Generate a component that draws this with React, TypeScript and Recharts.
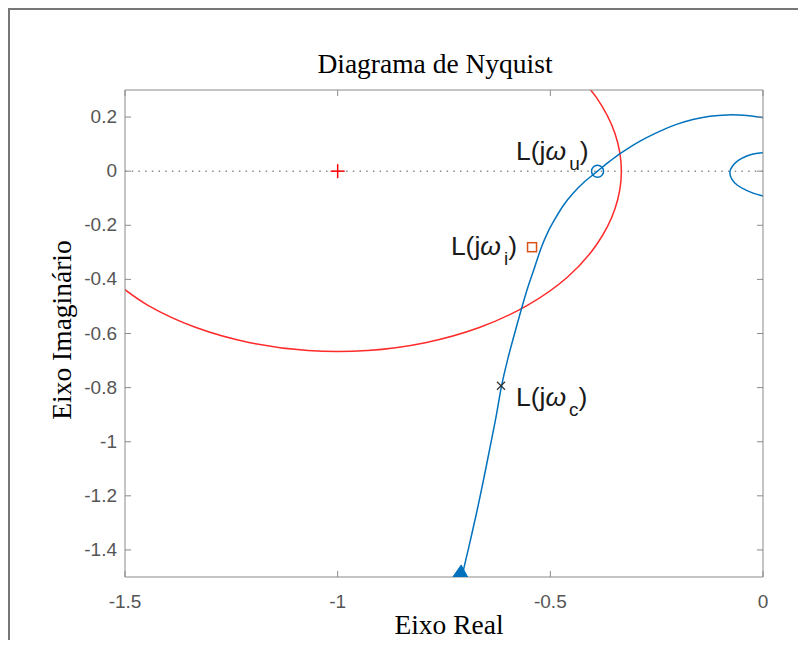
import React from "react";
import { ComposedChart, Line, Scatter, XAxis, YAxis, ReferenceLine } from "recharts";

// axis ticks
const xTicks = [-1.5, -1, -0.5, 0];
const yTicks = [0.2, 0, -0.2, -0.4, -0.6, -0.8, -1, -1.2, -1.4];

// Nyquist curve L(jw), main branch
const mainRe = [-0.714, -0.708, -0.691, -0.674, -0.658, -0.643, -0.628, -0.615, -0.601, -0.584, -0.567, -0.553, -0.537, -0.521, -0.506, -0.488, -0.469, -0.446, -0.421, -0.389, -0.36, -0.336, -0.289, -0.242, -0.205, -0.165, -0.125, -0.085, -0.038, -0.002, 0.04];
const mainIm = [-1.589, -1.504, -1.385, -1.267, -1.148, -1.03, -0.911, -0.796, -0.7, -0.6, -0.504, -0.43, -0.356, -0.281, -0.226, -0.174, -0.126, -0.081, -0.041, 0, 0.037, 0.065, 0.111, 0.148, 0.172, 0.191, 0.203, 0.208, 0.206, 0.198, 0.187];

// small loop near the origin
const loopRe = [0.02, 0, -0.02, -0.038, -0.058, -0.072, -0.078, -0.073, -0.06, -0.04, -0.02, 0, 0.02];
const loopIm = [0.07, 0.068, 0.064, 0.056, 0.04, 0.018, -0.004, -0.03, -0.052, -0.07, -0.083, -0.092, -0.1];

// red circle around -1
const circRe = [-0.454, -0.391, -0.348, -0.333, -0.348, -0.391, -0.46, -0.554, -0.667, -0.794, -0.93, -1.07, -1.206, -1.333, -1.446, -1.54];
const circIm = [0.383, 0.271, 0.139, 0, -0.139, -0.271, -0.392, -0.496, -0.578, -0.634, -0.663, -0.663, -0.634, -0.578, -0.496, -0.392];

// marked points
const ptU = [{ x: -0.389, y: 0 }];
const ptI = [{ x: -0.543, y: -0.281 }];
const ptC = [{ x: -0.616, y: -0.793 }];
const ptStart = [{ x: -0.712, y: -1.485 }];
const ptCritical = [{ x: -1, y: 0 }];

const zip = (re: number[], im: number[]) => re.map((x, i) => ({ x, y: im[i] }));
const mainData = zip(mainRe, mainIm);
const loopData = zip(loopRe, loopIm);
const circData = zip(circRe, circIm);

const BLUE = "#0072BD";
const AXIS = "#8a8a8a";
const TICKTXT = "#555";
const SANS = "'Liberation Sans', Arial, sans-serif";
const SERIF = "'Liberation Serif', 'Times New Roman', serif";

// chord-length Catmull-Rom, so curves that turn back on themselves stay smooth
function smooth(context: any) {
    let pts: number[][] = [];
    return {
        areaStart() {},
        areaEnd() {},
        lineStart() {
            pts = [];
        },
        point(x: number, y: number) {
            pts.push([+x, +y]);
        },
        lineEnd() {
            if (!pts.length) return;
            context.moveTo(pts[0][0], pts[0][1]);
            const d = (a: number[], b: number[]) => Math.hypot(b[0] - a[0], b[1] - a[1]) || 1e-6;
            for (let i = 0; i < pts.length - 1; i++) {
                const p0 = pts[Math.max(i - 1, 0)];
                const p1 = pts[i];
                const p2 = pts[i + 1];
                const p3 = pts[Math.min(i + 2, pts.length - 1)];
                const d01 = d(p0, p1);
                const d12 = d(p1, p2);
                const d23 = d(p2, p3);
                const k1 = d12 / (3 * (d01 + d12));
                const k2 = d12 / (3 * (d12 + d23));
                context.bezierCurveTo(
                    p1[0] + (p2[0] - p0[0]) * k1,
                    p1[1] + (p2[1] - p0[1]) * k1,
                    p2[0] - (p3[0] - p1[0]) * k2,
                    p2[1] - (p3[1] - p1[1]) * k2,
                    p2[0],
                    p2[1]
                );
            }
        },
    };
}

function Label({ x, y, sub, anchor }: { x: number; y: number; sub: string; anchor: "start" | "end" }) {
    return (
        <text x={x} y={y} textAnchor={anchor} fontFamily={SANS} fontSize={26.5} fill="#1a1a1a">
            L(j<tspan fontStyle="italic">ω</tspan>
            <tspan fontSize={19} dy={10} dx={3}>{sub}</tspan>
            <tspan dy={-10}>)</tspan>
        </text>
    );
}

export default function App() {
    return (
        <div
            style={{
                position: "relative",
                width: 796,
                height: 630,
                borderTop: "2px solid #777",
                borderLeft: "2px solid #777",
                marginRight: -8,
                background: "#fff",
            }}
        >
            <ComposedChart width={780} height={630} margin={{ top: 70, right: 17, bottom: 33, left: 55 }}>
                <XAxis
                    type="number"
                    dataKey="x"
                    domain={[-1.5, 0]}
                    ticks={xTicks}
                    interval={0}
                    allowDataOverflow
                    height={30}
                    tickSize={0}
                    tickMargin={0}
                    tickLine={false}
                    axisLine={{ stroke: AXIS }}
                    tick={(p: any) => (
                        <g>
                            <line x1={p.x} y1={p.y} x2={p.x} y2={p.y - 6} stroke={AXIS} />
                            <text x={p.x} y={p.y + 31} textAnchor="middle" fontFamily={SANS} fontSize={19} fill={TICKTXT}>
                                {p.payload.value}
                            </text>
                        </g>
                    )}
                />
                <XAxis
                    xAxisId="top"
                    orientation="top"
                    type="number"
                    dataKey="x"
                    domain={[-1.5, 0]}
                    ticks={xTicks}
                    interval={0}
                    allowDataOverflow
                    height={10}
                    tickSize={0}
                    tickMargin={0}
                    tickLine={false}
                    axisLine={{ stroke: AXIS }}
                    tick={(p: any) => <line x1={p.x} y1={p.y} x2={p.x} y2={p.y + 6} stroke={AXIS} />}
                />
                <YAxis
                    type="number"
                    dataKey="y"
                    domain={[-1.5, 0.3]}
                    ticks={yTicks}
                    interval={0}
                    allowDataOverflow
                    width={60}
                    tickSize={0}
                    tickMargin={0}
                    tickLine={false}
                    axisLine={{ stroke: AXIS }}
                    tick={(p: any) => (
                        <g>
                            <line x1={p.x} y1={p.y} x2={p.x + 6} y2={p.y} stroke={AXIS} />
                            <text x={p.x - 8} y={p.y + 6} textAnchor="end" fontFamily={SANS} fontSize={19} fill={TICKTXT}>
                                {p.payload.value}
                            </text>
                        </g>
                    )}
                />
                <YAxis
                    yAxisId="right"
                    orientation="right"
                    type="number"
                    dataKey="y"
                    domain={[-1.5, 0.3]}
                    ticks={yTicks}
                    interval={0}
                    allowDataOverflow
                    width={10}
                    tickSize={0}
                    tickMargin={0}
                    tickLine={false}
                    axisLine={{ stroke: AXIS }}
                    tick={(p: any) => <line x1={p.x} y1={p.y} x2={p.x - 6} y2={p.y} stroke={AXIS} />}
                />
                <ReferenceLine y={0} stroke="#8c8c8c" strokeWidth={1.5} strokeDasharray="1.5 5.2" />
                <Line data={circData} dataKey="y" type={smooth as any} stroke="#ff2a2a" strokeWidth={1.5} dot={false} isAnimationActive={false} />
                <Line data={mainData} dataKey="y" type={smooth as any} stroke={BLUE} strokeWidth={1.5} dot={false} isAnimationActive={false} />
                <Line data={loopData} dataKey="y" type={smooth as any} stroke={BLUE} strokeWidth={1.5} dot={false} isAnimationActive={false} />
                <Scatter
                    data={ptCritical}
                    dataKey="y"
                    isAnimationActive={false}
                    shape={(p: any) => (
                        <g stroke="#ff0000" strokeWidth={1.5}>
                            <line x1={p.cx - 7} y1={p.cy} x2={p.cx + 7} y2={p.cy} />
                            <line x1={p.cx} y1={p.cy - 7} x2={p.cx} y2={p.cy + 7} />
                        </g>
                    )}
                />
                <Scatter
                    data={ptU}
                    dataKey="y"
                    isAnimationActive={false}
                    shape={(p: any) => (
                        <g>
                            <circle cx={p.cx} cy={p.cy} r={6} fill="none" stroke={BLUE} strokeWidth={1.5} />
                            <Label x={p.cx - 9} y={p.cy - 11} sub="u" anchor="end" />
                        </g>
                    )}
                />
                <Scatter
                    data={ptI}
                    dataKey="y"
                    isAnimationActive={false}
                    shape={(p: any) => (
                        <g>
                            <rect x={p.cx - 4.5} y={p.cy - 4.5} width={9} height={9} fill="none" stroke="#D95319" strokeWidth={1.5} />
                            <Label x={p.cx - 15} y={p.cy + 8} sub="i" anchor="end" />
                        </g>
                    )}
                />
                <Scatter
                    data={ptC}
                    dataKey="y"
                    isAnimationActive={false}
                    shape={(p: any) => (
                        <g>
                            <g stroke="#333" strokeWidth={1.2}>
                                <line x1={p.cx - 4} y1={p.cy - 4} x2={p.cx + 4} y2={p.cy + 4} />
                                <line x1={p.cx - 4} y1={p.cy + 4} x2={p.cx + 4} y2={p.cy - 4} />
                            </g>
                            <Label x={p.cx + 15} y={p.cy + 20} sub="c" anchor="start" />
                        </g>
                    )}
                />
                <Scatter
                    data={ptStart}
                    dataKey="y"
                    isAnimationActive={false}
                    shape={(p: any) => (
                        <polygon
                            points={`${p.cx - 8},${p.cy + 5} ${p.cx + 8},${p.cy + 5} ${p.cx + 1},${p.cy - 8}`}
                            fill={BLUE}
                            stroke={BLUE}
                        />
                    )}
                />
            </ComposedChart>
            <svg width={796} height={630} style={{ position: "absolute", left: 0, top: 0, pointerEvents: "none", overflow: "visible" }}>
                <text x={425} y={63} textAnchor="middle" fontFamily={SERIF} fontSize={27.5} fill="#000">
                    Diagrama de Nyquist
                </text>
                <text x={439} y={624} textAnchor="middle" fontFamily={SERIF} fontSize={27.5} fill="#000">
                    Eixo Real
                </text>
                <text x={61} y={320} transform="rotate(-90 61 320)" textAnchor="middle" fontFamily={SERIF} fontSize={27.5} fill="#000">
                    Eixo Imaginário
                </text>
            </svg>
        </div>
    );
}
